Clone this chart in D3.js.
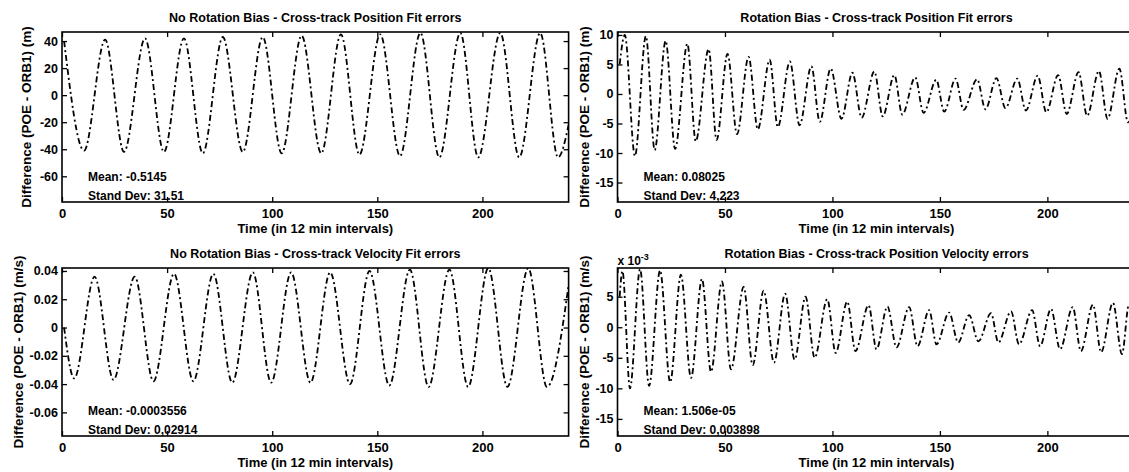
<!DOCTYPE html>
<html>
<head>
<meta charset="utf-8">
<script src="https://cdn.jsdelivr.net/npm/d3@7/dist/d3.min.js"></script>
<style>
    body { margin: 0; background: #fff; }
    svg text { font-family: "Liberation Sans", Arial, Helvetica, sans-serif; font-weight: bold; fill: #000; }
</style>
</head>
<body>
<div id="chartDiv"></div>
<script>
// values: time (12 min steps) and value of each
// start point, peak / trough of the oscillation and end point
var xTicks = [0, 50, 100, 150, 200];

// No Rotation Bias - position (m)
var posNoBiasTime = [1, 10.5, 20.5, 29.5, 39.5, 48.5, 58, 67, 76.5, 86, 95.5, 104.5, 114, 123.3, 132.7,
    141.5, 151.4, 160.8, 170.5, 179.5, 189.5, 198, 208.5, 217.5, 227.5, 236, 241];
var posNoBiasVal = [40, -41, 41, -42, 42, -42, 42, -43, 43, -42, 43, -43, 44, -43, 45,
    -44, 45, -45, 46, -46, 46, -46, 46, -46, 46, -46, -22];
var posNoBiasTicks = [-60, -40, -20, 0, 20, 40];

// Rotation Bias - position (m)
var posBiasTime = [1, 3.4, 8.1, 13.2, 17.3, 22.4, 26.8, 32.5, 36.4, 42.4, 46.1, 51.2, 55.6, 61, 65.3,
    70.8, 74.6, 80.2, 84.7, 90.2, 94.1, 99.2, 104.2, 109.3, 113.6, 119.5, 123.4, 128.8, 132.5,
    138.5, 142.4, 148.3, 152, 157.3, 161, 167.3, 171.2, 176.3, 180.5, 186, 190, 195.5, 199.5,
    205, 209, 214.5, 218.5, 224, 228, 233.5, 237.5, 241];
var posBiasVal = [5, 10, -10.5, 9.8, -9.5, 9, -9.3, 8.5, -8, 7.6, -7.8, 6.8, -6.8, 6.3, -6,
    5.8, -5.6, 5.5, -5.3, 4.7, -4.7, 4.3, -4.2, 3.6, -4, 3.8, -3.8, 3.2, -3.5,
    2.8, -3.2, 2.4, -3, 2.6, -2.7, 2.5, -2.6, 2.7, -2.4, 2.6, -2.8, 3.1, -3.1,
    3.2, -3.4, 3.7, -3.7, 3.9, -4.2, 4.3, -4.8, -1];
var posBiasTicks = [-15, -10, -5, 0, 5, 10];

// No Rotation Bias - velocity (m/s)
var velNoBiasTime = [1, 5.8, 15.5, 24.5, 34.6, 43.5, 53.3, 62.5, 72, 81, 90.8, 99.5, 109, 118.2,
    127.6, 137, 146.3, 155.7, 165.5, 174.4, 184.3, 193.2, 202.8, 211.9, 221.8, 230.7, 241];
var velNoBiasVal = [0, -0.036, 0.036, -0.037, 0.036, -0.038, 0.038, -0.038, 0.038, -0.039, 0.039,
    -0.039, 0.039, -0.039, 0.039, -0.04, 0.04, -0.041, 0.041, -0.042, 0.041, -0.042, 0.042,
    -0.042, 0.042, -0.042, 0.03];
var velNoBiasTicks = [-0.06, -0.04, -0.02, 0, 0.02, 0.04];

// Rotation Bias - velocity (x 10^-3 m/s)
var velBiasTime = [1, 2.3, 5.8, 10.5, 14.7, 19.8, 24.5, 29.5, 34.2, 39.3, 43.5, 48.6, 52.8, 58.7,
    62.9, 68, 72.8, 78, 82.4, 87.5, 91.7, 97.6, 101.5, 106.9, 110.7, 116.8, 120.5, 125.6,
    129.8, 135.7, 139.6, 145, 148.4, 154.3, 158.5, 163.6, 167.9, 173.8, 177.2, 183.1, 186.8,
    192.9, 196.6, 201.7, 205.9, 211.8, 215.6, 221.2, 225, 230.5, 234.7, 238, 241];
var velBiasVal = [5, 9.2, -10, 9.5, -9.6, 9.3, -9, 8.6, -8.3, 7.9, -7.3, 7.5, -6.9, 6.6,
    -6.2, 6, -5.8, 5.5, -5.3, 5, -5, 4.6, -4.2, 4.2, -3.9, 3.6, -3.6, 3.4,
    -3.3, 3.3, -3.1, 2.8, -2.8, 2.4, -2.5, 2, -2.3, 2.3, -2.5, 2.6, -2.8,
    2.8, -3.1, 3, -3.6, 3.3, -3.9, 3.7, -4.1, 4, -4.4, 3.8, -2];
var velBiasTicks = [-15, -10, -5, 0, 5];

var panels = [
    {title: "No Rotation Bias - Cross-track Position Fit errors", unit: "(m)",
     time: posNoBiasTime, val: posNoBiasVal, yTicks: posNoBiasTicks, yDomain: [-79, 46.7],
     mean: "Mean: -0.5145", sd: "Stand Dev: 31.51", col: 0, row: 0, ylabX: -36},
    {title: "Rotation Bias - Cross-track Position Fit errors", unit: "(m)",
     time: posBiasTime, val: posBiasVal, yTicks: posBiasTicks, yDomain: [-18.3, 10.5],
     mean: "Mean: 0.08025", sd: "Stand Dev: 4,223", col: 1, row: 0, ylabX: -34},
    {title: "No Rotation Bias - Cross-track Velocity Fit errors", unit: "(m/s)",
     time: velNoBiasTime, val: velNoBiasVal, yTicks: velNoBiasTicks, yDomain: [-0.0767, 0.0421],
     mean: "Mean: -0.0003556", sd: "Stand Dev: 0,02914", col: 0, row: 1, ylabX: -44},
    {title: "Rotation Bias - Cross-track Position Velocity errors", unit: "(m/s)",
     time: velBiasTime, val: velBiasVal, yTicks: velBiasTicks, yDomain: [-17.8, 9.7],
     mean: "Mean: 1.506e-05", sd: "Stand Dev: 0,003898", col: 1, row: 1, ylabX: -34, exponent: "-3"}
];

var outerWidth = 1129, outerHeight = 472;
var cols = [{left: 62, right: 568.6}, {left: 617.5, right: 1135.5}];
var rows = [{top: 32, bottom: 202}, {top: 268, bottom: 436}];

var svg = d3.select("#chartDiv")
    .append("svg")
    .attr("width", outerWidth)
    .attr("height", outerHeight);

panels.forEach(function(p, i) { drawPanel(p, i); });

function drawPanel(p, i) {
    var c = cols[p.col], r = rows[p.row];
    var width = c.right - c.left, height = r.bottom - r.top;

    var g = svg.append("g")
        .attr("transform", "translate(" + c.left + "," + r.top + ")");

    var x = d3.scaleLinear().domain([0, 241]).range([0, width]);
    var y = d3.scaleLinear().domain(p.yDomain).range([height, 0]);

    g.append("clipPath")
        .attr("id", "clip" + i)
        .append("rect")
        .attr("width", width)
        .attr("height", height);

    var pts = p.time.map(function(t, k) { return {t: t, v: p.val[k]}; });

    var line = d3.line()
        .curve(d3.curveMonotoneX)
        .x(function(d) { return x(d.t); })
        .y(function(d) { return y(d.v); });

    g.append("path")
        .attr("clip-path", "url(#clip" + i + ")")
        .attr("d", line(pts))
        .style("fill", "none")
        .style("stroke", "#000")
        .style("stroke-width", 1.8)
        .style("stroke-dasharray", "6,3,2,3");

    // inward ticks on all four sides, like matlab
    var axes = [
        {a: d3.axisBottom(x).tickValues(xTicks), tr: "translate(0," + height + ")"},
        {a: d3.axisTop(x).tickValues(xTicks).tickFormat(""), tr: null},
        {a: d3.axisLeft(y).tickValues(p.yTicks).tickFormat(function(d) { return d; }), tr: null},
        {a: d3.axisRight(y).tickValues(p.yTicks).tickFormat(""), tr: "translate(" + width + ",0)"}
    ];
    axes.forEach(function(ax, k) {
        ax.a.tickSizeInner(-5).tickSizeOuter(0).tickPadding(k == 0 ? 7 : 4);
        var ag = g.append("g").call(ax.a);
        if (ax.tr) ag.attr("transform", ax.tr);
        ag.select(".domain").remove();
        ag.selectAll(".tick line").style("stroke-width", 1.3);
        ag.attr("font-family", null).attr("font-size", null);
        ag.selectAll("text").style("font-size", k == 0 ? "13px" : "12.5px");
    });

    g.append("rect")
        .attr("width", width)
        .attr("height", height)
        .style("fill", "none")
        .style("stroke", "#000")
        .style("stroke-width", 1.6);

    // titles and labels
    g.append("text")
        .attr("x", width / 2)
        .attr("y", -10)
        .attr("text-anchor", "middle")
        .style("font-size", "12.5px")
        .text(p.title);

    g.append("text")
        .attr("x", width / 2)
        .attr("y", height + 31)
        .attr("text-anchor", "middle")
        .style("font-size", "13px")
        .text("Time (in 12 min intervals)");

    g.append("text")
        .attr("transform", "translate(" + (p.ylabX + 5) + "," + (height / 2) + ") rotate(-90)")
        .attr("text-anchor", "middle")
        .style("font-size", "13.5px")
        .text("Difference (POE - ORB1) " + p.unit);

    g.append("text")
        .attr("x", 26)
        .attr("y", height - 21)
        .style("font-size", "12px")
        .text(p.mean);

    g.append("text")
        .attr("x", 26)
        .attr("y", height - 2)
        .style("font-size", "12px")
        .text(p.sd);

    if (p.exponent) {
        var ex = g.append("text")
            .attr("x", 0)
            .attr("y", -3)
            .style("font-size", "12px")
            .text("x 10");
        ex.append("tspan")
            .attr("dy", -5)
            .style("font-size", "9px")
            .text(p.exponent);
    }
}
</script>
</body>
</html>
